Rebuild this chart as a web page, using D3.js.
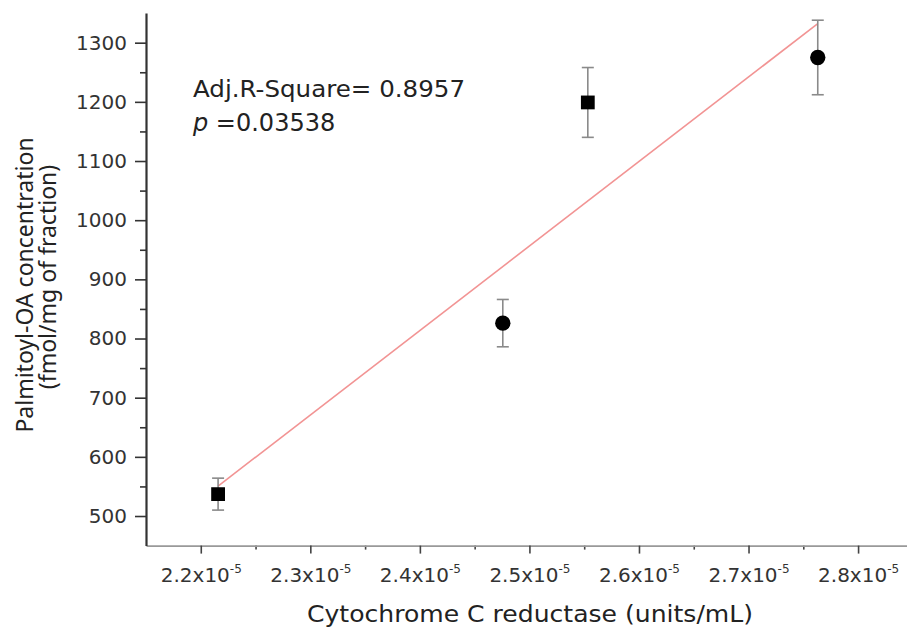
<!DOCTYPE html>
<html>
<head>
<meta charset="utf-8">
<script src="https://cdn.jsdelivr.net/npm/d3@7"></script>
<style>
    body { margin: 0; background: #fff; }
    svg { display: block; }
    .tick text { font-family: "DejaVu Sans", sans-serif; fill: #333; }
</style>
</head>
<body>
<svg id="chart"></svg>
<script>

// data
var xValues = [2.2158e-5, 2.4757e-5, 2.5533e-5, 2.7632e-5]; // cytochrome C reductase (units/mL)
var yValues = [537, 826, 1199, 1275];                      // palmitoyl-OA (fmol/mg)
var yErrors = [27, 40, 59, 63];
var markerShapes = ["square", "circle", "square", "circle"];

var xMajorTicks = [2.2e-5, 2.3e-5, 2.4e-5, 2.5e-5, 2.6e-5, 2.7e-5, 2.8e-5];
var xMinorTicks = [2.25e-5, 2.35e-5, 2.45e-5, 2.55e-5, 2.65e-5, 2.75e-5];
var yMajorTicks = [500, 600, 700, 800, 900, 1000, 1100, 1200, 1300];
var yMinorTicks = [550, 650, 750, 850, 950, 1050, 1150, 1250];

var statLines = ["Adj.R-Square= 0.8957", "0.03538"];

var width = 907, height = 628;

var svg = d3.select('#chart')
    .attr("width", width)
    .attr("height", height);

// scales
var xScale = d3.scaleLinear()
    .domain([2.15e-5, 2.85e-5])
    .range([146, 146 + 0.7 * 1095.5]);

var yScale = d3.scaleLinear()
    .domain([450, 1350])
    .range([545.6, 13.1]);

// linear fit (least squares) drawn over the data range
var meanX = d3.mean(xValues), meanY = d3.mean(yValues);
var sxy = d3.sum(xValues, function (d, i) { return (d - meanX) * (yValues[i] - meanY); });
var sxx = d3.sum(xValues, function (d) { return (d - meanX) * (d - meanX); });
var slope = sxy / sxx;
var intercept = meanY - slope * meanX;
var fitX = d3.extent(xValues);

svg.append("line")
    .attr("x1", xScale(fitX[0]))
    .attr("y1", yScale(intercept + slope * fitX[0]))
    .attr("x2", xScale(fitX[1]))
    .attr("y2", yScale(intercept + slope * fitX[1]))
    .attr("stroke", "#f29494")
    .attr("stroke-width", 1.6);

// x axis: minor ticks first, then major ticks with labels
var xMinorAxis = d3.axisBottom(xScale).tickValues(xMinorTicks).tickSize(4).tickFormat("");
svg.append("g")
    .attr("transform", "translate(0,545.6)")
    .call(xMinorAxis)
    .call(function (g) { g.select(".domain").remove(); })
    .selectAll(".tick line").attr("stroke", "#444").attr("stroke-width", 1.6);

var xAxis = d3.axisBottom(xScale)
    .tickValues(xMajorTicks)
    .tickSize(8)
    .tickSizeOuter(0)
    .tickPadding(14)
    .tickFormat(function (d) { return d3.format(".1f")(d * 1e5) + "x10"; });

var gx = svg.append("g")
    .attr("transform", "translate(0,545.6)")
    .call(xAxis);
gx.select(".domain").attr("stroke", "#999").attr("stroke-width", 1.6);
gx.selectAll(".tick line").attr("stroke", "#444").attr("stroke-width", 1.6);
gx.selectAll(".tick text")
    .attr("font-size", "20px")
    .append("tspan")
    .attr("dy", "-0.75em")
    .attr("font-size", "12px")
    .text("-5");

// y axis
var yMinorAxis = d3.axisLeft(yScale).tickValues(yMinorTicks).tickSize(6).tickFormat("");
svg.append("g")
    .attr("transform", "translate(146,0)")
    .call(yMinorAxis)
    .call(function (g) { g.select(".domain").remove(); })
    .selectAll(".tick line").attr("stroke", "#333").attr("stroke-width", 1.6);

var yAxis = d3.axisLeft(yScale)
    .tickValues(yMajorTicks)
    .tickSize(11)
    .tickSizeOuter(0)
    .tickPadding(8)
    .tickFormat(d3.format("d"));

var gy = svg.append("g")
    .attr("transform", "translate(146,0)")
    .call(yAxis);
gy.select(".domain").attr("stroke", "#333").attr("stroke-width", 2.2);
gy.selectAll(".tick line").attr("stroke", "#333").attr("stroke-width", 1.6);
gy.selectAll(".tick text").attr("font-size", "20px");

// error bars
var errG = svg.append("g")
    .attr("stroke", "#8a8a8a")
    .attr("stroke-width", 1.6);

xValues.forEach(function (x, i) {
    var cx = xScale(x);
    var top = yScale(yValues[i] + yErrors[i]);
    var bottom = yScale(yValues[i] - yErrors[i]);
    errG.append("line").attr("x1", cx).attr("x2", cx).attr("y1", top).attr("y2", bottom);
    errG.append("line").attr("x1", cx - 6).attr("x2", cx + 6).attr("y1", top).attr("y2", top);
    errG.append("line").attr("x1", cx - 6).attr("x2", cx + 6).attr("y1", bottom).attr("y2", bottom);
});

// markers
svg.append("g").selectAll("path")
    .data(xValues)
    .enter()
    .append("path")
    .attr("transform", function (d, i) { return "translate(" + xScale(d) + "," + yScale(yValues[i]) + ")"; })
    .attr("d", function (d, i) {
        var sym = markerShapes[i] === "square" ? d3.symbolSquare : d3.symbolCircle;
        var size = markerShapes[i] === "square" ? 190 : 185;
        return d3.symbol().type(sym).size(size)();
    })
    .attr("fill", "#000");

// statistics annotation (reference text is a bit wide, so stretch it)
svg.append("text")
    .text(statLines[0])
    .attr("x", 193)
    .attr("y", 97)
    .attr("textLength", 272)
    .attr("lengthAdjust", "spacingAndGlyphs")
    .attr("font-family", "DejaVu Sans, sans-serif")
    .attr("font-size", "23px")
    .attr("fill", "#222");

var pText = svg.append("text")
    .attr("x", 193)
    .attr("y", 131)
    .attr("font-family", "DejaVu Sans, sans-serif")
    .attr("font-size", "24px")
    .attr("fill", "#222");
pText.append("tspan").attr("font-style", "italic").text("p");
pText.append("tspan").text(" =" + statLines[1]);

// axis titles
svg.append("text")
    .text("Cytochrome C reductase (units/mL)")
    .attr("x", 307)
    .attr("y", 622)
    .attr("textLength", 446)
    .attr("lengthAdjust", "spacingAndGlyphs")
    .attr("font-family", "DejaVu Sans, sans-serif")
    .attr("font-size", "23px")
    .attr("fill", "#222");

svg.append("text")
    .text("Palmitoyl-OA concentration")
    .attr("transform", "translate(33,285) rotate(-90)")
    .attr("text-anchor", "middle")
    .attr("font-family", "Noto Sans, sans-serif")
    .attr("font-size", "23px")
    .attr("fill", "#222");

svg.append("text")
    .text("(fmol/mg of fraction)")
    .attr("transform", "translate(56,277) rotate(-90)")
    .attr("text-anchor", "middle")
    .attr("font-family", "Noto Sans, sans-serif")
    .attr("font-size", "23px")
    .attr("fill", "#222");

</script>
</body>
</html>
